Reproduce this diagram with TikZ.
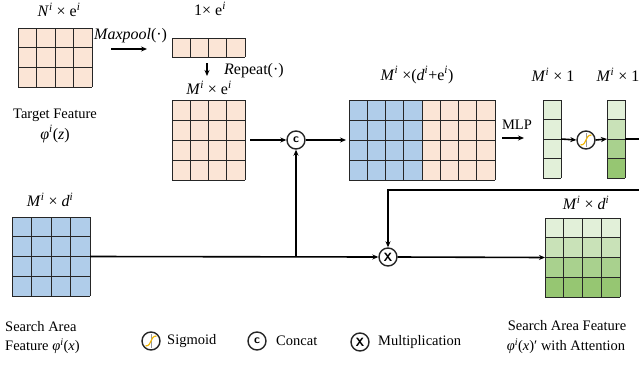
\documentclass[tikz,border=0pt]{standalone}
\usepackage{fontspec}
\setmainfont{Liberation Serif}
\usetikzlibrary{arrows.meta}
\definecolor{peach}{HTML}{FBE5D6}
\definecolor{blu}{HTML}{B0CDEA}
\definecolor{ga}{HTML}{E2F0D9}
\definecolor{gb}{HTML}{C9E2B8}
\definecolor{gc}{HTML}{A9D18E}
\definecolor{gd}{HTML}{96C672}
\definecolor{sigc}{HTML}{F2B705}
% grid lines inside a box: x1 y1 x2 y2 cols rows
\newcommand{\cellgrid}[6]{%
  \foreach \ii in {0,...,#5}{\draw[gl] ({#1+(#3-#1)*\ii/#5},#2) -- ({#1+(#3-#1)*\ii/#5},#4);}
  \foreach \jj in {0,...,#6}{\draw[gl] (#1,{#2+(#4-#2)*\jj/#6}) -- (#3,{#2+(#4-#2)*\jj/#6});}
}
% feature map node: name x1 y1 x2 y2
\newcommand{\fmapnode}[5]{%
  \node[fm, minimum width={(#4-#2)*1pt}, minimum height={(#5-#3)*1pt}] (#1) at ({(#2+#4)/2},{(#3+#5)/2}) {};
}
\newcommand{\sigmark}[1]{%
  \draw[black!40, line width=0.5pt] ([yshift=-7pt]#1.center) -- ([yshift=7pt]#1.center);
  \draw[sigc, line width=1.2pt] ([shift={(-5.5pt,-5pt)}]#1.center) .. controls ([shift={(1.5pt,-5pt)}]#1.center) and ([shift={(-1.5pt,5pt)}]#1.center) .. ([shift={(5.5pt,5pt)}]#1.center);
}
\newcommand{\sups}[2]{\textit{#1}\textsuperscript{\textit{#2}}}
\newcommand{\esup}{e\textsuperscript{\textit{i}}}
\begin{document}
\begin{tikzpicture}[x=1pt,y=-1pt,
  fm/.style={draw=none, inner sep=0pt, outer sep=0pt},
  gl/.style={draw=black!85, line width=1pt},
  conn/.style={line width=1.6pt, -{Stealth[length=6pt,width=5pt]}},
  plain/.style={line width=1.6pt},
  op/.style={circle, draw=black!85, line width=1.4pt, minimum size=18pt, inner sep=0pt, font=\fontsize{12pt}{13pt}\sffamily\bfseries\selectfont},
  lbl/.style={inner sep=0pt, font=\fontsize{14.5pt}{17pt}\selectfont},
  mlbl/.style={inner sep=0pt, font=\fontsize{16pt}{18pt}\selectfont}]
\useasboundingbox (0,0) rectangle (639,364);

% ---------- feature maps ----------
\fill[peach] (18,28) rectangle (92,87);
\cellgrid{18}{28}{92}{87}{4}{3}
\fmapnode{tgt}{18}{28}{92}{87}

\fill[peach] (172,38) rectangle (245,57);
\cellgrid{172}{38}{245}{57}{4}{1}
\fmapnode{pool}{172}{38}{245}{57}

\fill[peach] (172,100) rectangle (245,180);
\cellgrid{172}{100}{245}{180}{4}{4}
\fmapnode{rep}{172}{100}{245}{180}

\fill[blu] (349,100) rectangle (422,180);
\fill[peach] (422,100) rectangle (495,180);
\cellgrid{349}{100}{495}{180}{8}{4}
\fmapnode{cat}{349}{100}{495}{180}

\fill[ga] (543,100) rectangle (561,178);
\cellgrid{543}{100}{561}{178}{1}{4}
\fmapnode{va}{543}{100}{561}{178}

\fill[ga] (607,100) rectangle (625,119.5);
\fill[gb] (607,119.5) rectangle (625,139);
\fill[gc] (607,139) rectangle (625,158.5);
\fill[gd] (607,158.5) rectangle (625,178);
\cellgrid{607}{100}{625}{178}{1}{4}
\fmapnode{vb}{607}{100}{625}{178}

\fill[blu] (12,217) rectangle (90,296);
\cellgrid{12}{217}{90}{296}{4}{4}
\fmapnode{srch}{12}{217}{90}{296}

\fill[ga] (545,218) rectangle (620,237.75);
\fill[gb] (545,237.75) rectangle (620,257.5);
\fill[gc] (545,257.5) rectangle (620,277.25);
\fill[gd] (545,277.25) rectangle (620,297);
\cellgrid{545}{218}{620}{297}{4}{4}
\fmapnode{out}{545}{218}{620}{297}

% ---------- operators ----------
\node[op] (cc) at (296,140) {c};
\node[op] (sg) at (586,140) {};
\sigmark{sg}
\node[op] (mul) at (388,257) {X};

% ---------- labels ----------
\node[mlbl] (l1) at (59,10) {\sups{N}{i} × \esup};
\node[mlbl, anchor=west] (l2) at (94,36) {\textit{Maxpool}(·)};
\node[mlbl] (l3) at (210,9) {1× \esup};
\node[mlbl, anchor=west] (l4) at (224,71) {\textit{R}epeat(·)};
\node[mlbl] (l5) at (209,88) {\sups{M}{i} × \esup};
\node[lbl] (l6) at (55,115) {Target Feature};
\node[mlbl] (l7) at (55,134) {\sups{φ}{i}(\textit{z})};
\node[mlbl] (l8) at (417,75) {\sups{M}{i} ×(\sups{d}{i}+\esup)};
\node[lbl] (l9) at (517,125) {MLP};
\node[mlbl] (l10) at (553,75) {\sups{M}{i} × 1};
\node[mlbl] (l11) at (618,75) {\sups{M}{i} × 1};
\node[mlbl] (l12) at (50,200) {\sups{M}{i} × \sups{d}{i}};
\node[mlbl] (l13) at (586,203) {\sups{M}{i} × \sups{d}{i}};
\node[lbl, anchor=west] (l14) at (5,327) {Search Area};
\node[lbl, anchor=west] (l15) at (5,346) {Feature \sups{φ}{i}(\textit{x})};
\node[lbl] (l16) at (567,326) {Search Area Feature};
\node[lbl] (l17) at (566,346) {\sups{φ}{i}(\textit{x})′ with Attention};

% ---------- legend ----------
\node[op] (lsg) at (151,341) {};
\sigmark{lsg}
\node[lbl, anchor=west] (t1) at (167,341) {Sigmoid};
\node[op] (lcc) at (257,341) {c};
\node[lbl, anchor=west] (t2) at (276,341) {Concat};
\node[op] (lmul) at (360,342) {X};
\node[lbl, anchor=west] (t3) at (378,342) {Multiplication};

% ---------- connectors ----------
\coordinate (p1) at (111,49);
\coordinate (p2) at (147,49);
\draw[conn] (p1) -- (p2);
\coordinate (r1) at (207,63);
\coordinate (r2) at (207,76);
\draw[conn] (r1) -- (r2);
\coordinate (m1) at (502,138);
\coordinate (m2) at (524,138);
\draw[conn] (m1) -- (m2);

\draw[conn] ([xshift=5pt]rep.east) -- (cc.west);
\draw[conn] (cc.east) -- ([xshift=-3pt]cat.west);
\draw[conn] (va.east) -- (sg.west);
\draw[conn] (sg.east) -- (vb.west);
\coordinate (ra) at (650,139);
\coordinate (rb) at (650,190);
\draw[plain] (vb.east) -- (ra);
\draw[conn] (rb) -| (mul.north);
\draw[conn] (srch.east) -- (mul.west);
\coordinate (jn) at (cc |- mul);
\draw[conn] (jn) -- (cc.south);
\draw[conn] (mul.east) -- (out.west);
\end{tikzpicture}
\end{document}
